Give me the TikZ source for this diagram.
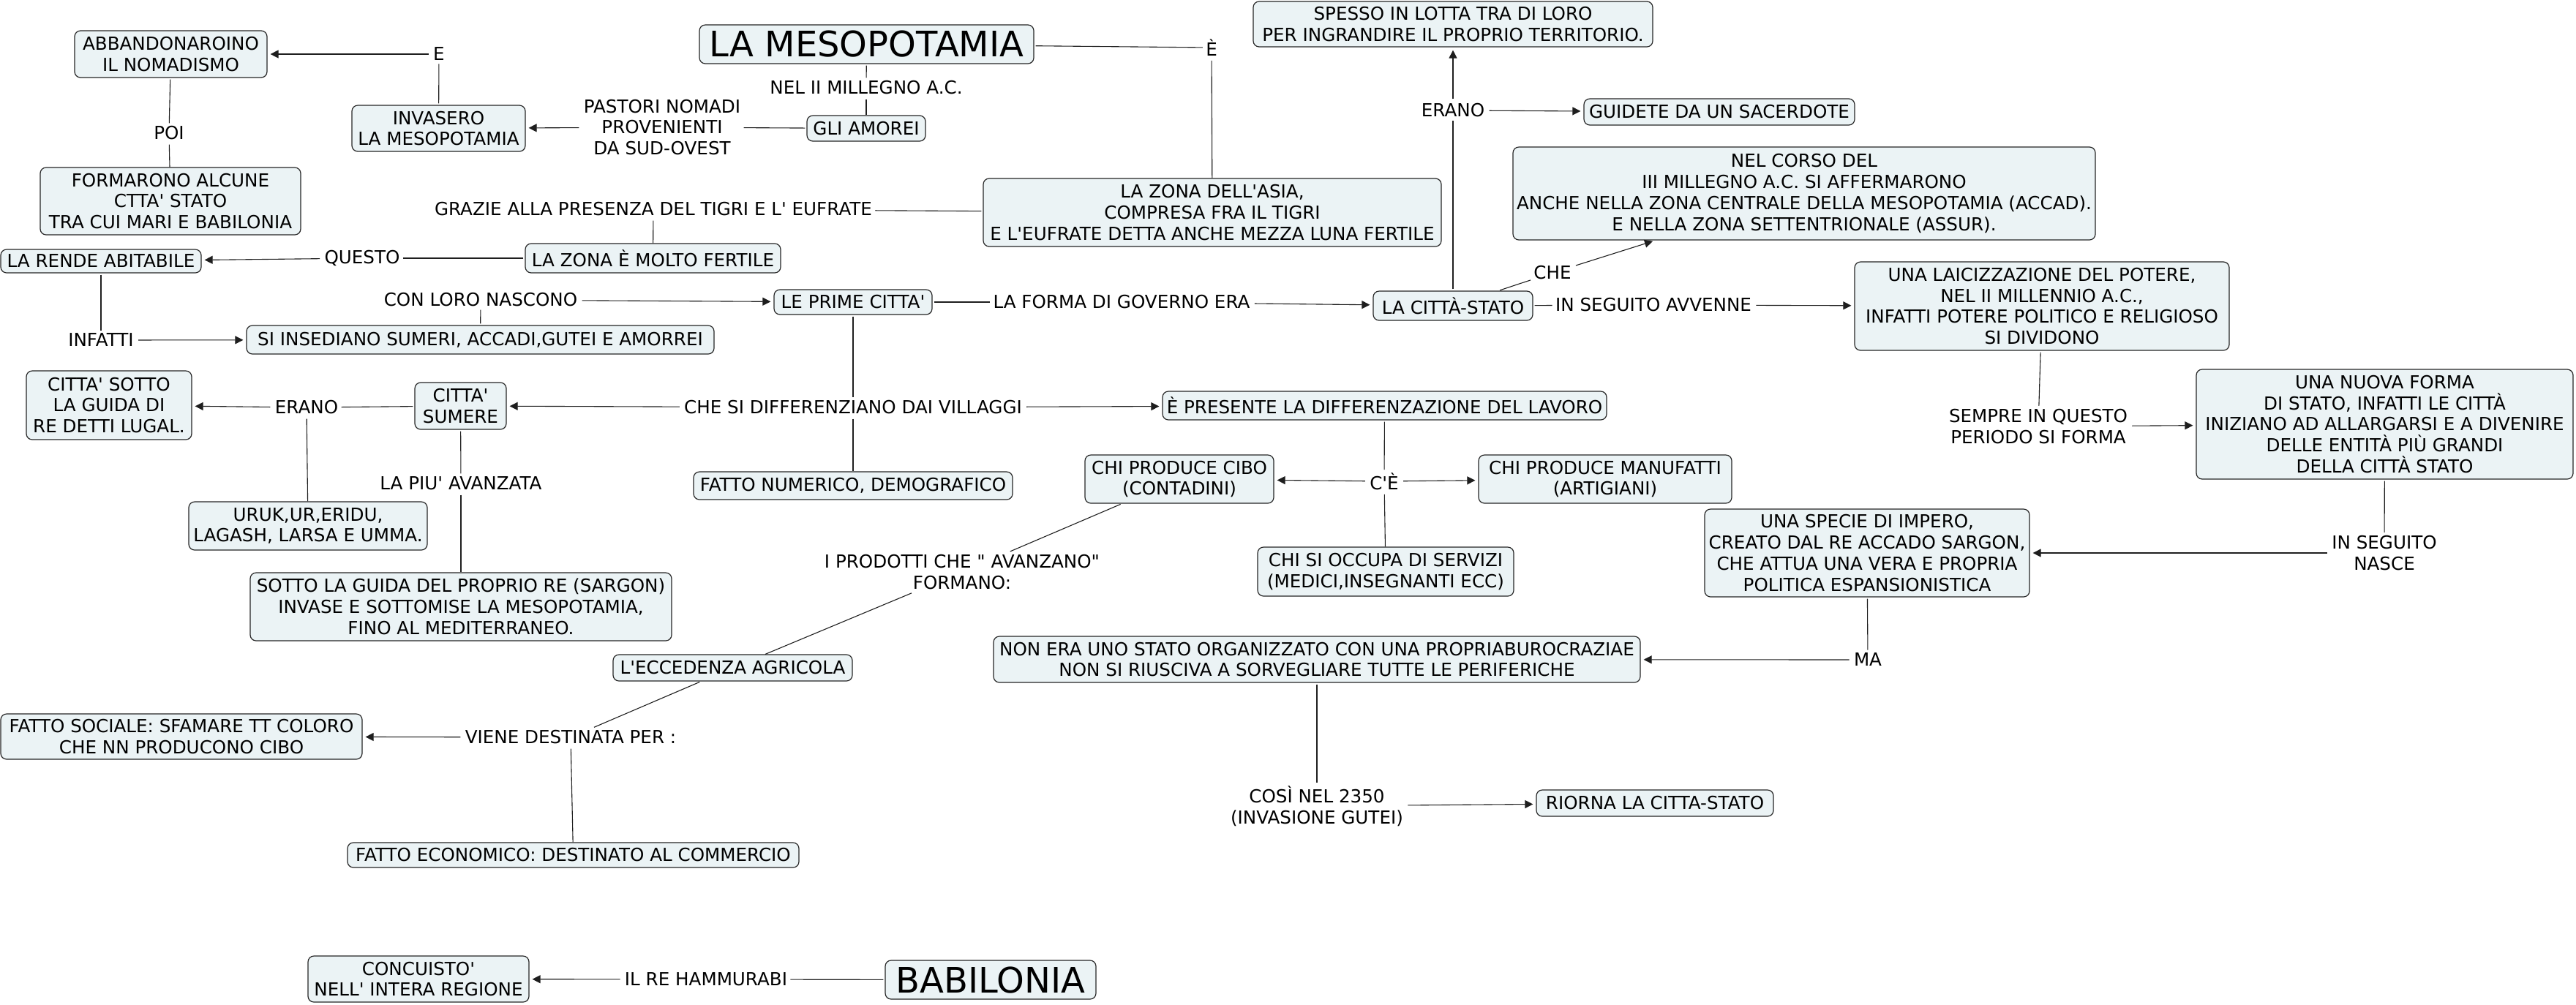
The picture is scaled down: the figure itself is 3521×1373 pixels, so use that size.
\documentclass[tikz,border=0pt]{standalone}
\usepackage{fontspec}
\setmainfont{DejaVu Sans}[Ligatures=TeXOff]
\usetikzlibrary{arrows.meta}
\definecolor{boxfill}{RGB}{235,243,245}
\definecolor{linec}{RGB}{30,30,30}
\newcommand\fs{\fontsize{12.3}{14.4}\selectfont}
\newcommand\fbig{\fontsize{24}{28}\selectfont}
\tikzset{
  box/.style={draw=black!85, fill=boxfill, rounded corners=4pt, line width=0.6pt, align=center, inner sep=0pt, font=\fs},
  lbl/.style={align=center, inner sep=2pt, font=\fs, fill=white},
  con/.style={draw=linec, line width=0.55pt, shorten <=1pt},
  arr/.style={con, -{Triangle[length=5.5pt,width=5.5pt]}, shorten >=2pt}
}
\newcommand\B[7][]{\node[box,#1, minimum width={(#5-#3)*0.5pt}, minimum height={(#6-#4)*0.5pt}] (#2) at ({(#3+#5)/2},{(#4+#6)/2}) {#7};}
\begin{document}
\begin{tikzpicture}[x=0.5pt,y=-0.5pt]
\fill[white] (0,0) rectangle (3521,1373);
\useasboundingbox (0,0) rectangle (3521,1373);
% concepts
\B{abb}{102}{42}{365}{106}{ABBANDONAROINO\\IL NOMADISMO}
\B{inv}{481}{144}{718}{207}{INVASERO\\LA MESOPOTAMIA}
\B{form}{55}{229}{411}{321}{FORMARONO ALCUNE\\CTTA' STATO\\TRA CUI MARI E BABILONIA}
\B{rende}{1}{341}{275}{373}{LA RENDE ABITABILE}
\B{zf}{718}{333}{1067}{373}{LA ZONA È MOLTO FERTILE}
\B[font=\fbig]{mesop}{956}{34}{1413}{87}{LA MESOPOTAMIA}
\B{amorei}{1103}{158}{1265}{193}{GLI AMOREI}
\B{asia}{1344}{244}{1970}{337}{LA ZONA DELL'ASIA,\\COMPRESA FRA IL TIGRI\\E L'EUFRATE DETTA ANCHE MEZZA LUNA FERTILE}
\B{insed}{337}{445}{976}{484}{SI INSEDIANO SUMERI, ACCADI,GUTEI E AMORREI}
\B{prime}{1058}{396}{1274}{430}{LE PRIME CITTA'}
\B{spesso}{1713}{2}{2259}{64}{SPESSO IN LOTTA TRA DI LORO\\PER INGRANDIRE IL PROPRIO TERRITORIO.}
\B{guid}{2165}{135}{2535}{171}{GUIDETE DA UN SACERDOTE}
\B{ncorso}{2068}{201}{2864}{328}{NEL CORSO DEL\\III MILLEGNO A.C. SI AFFERMARONO\\ANCHE NELLA ZONA CENTRALE DELLA MESOPOTAMIA (ACCAD).\\E NELLA ZONA SETTENTRIONALE (ASSUR).}
\B{cs}{1877}{398}{2095}{438}{LA CITTÀ-STATO}
\B{laic}{2535}{358}{3047}{479}{UNA LAICIZZAZIONE DEL POTERE,\\NEL II MILLENNIO A.C.,\\INFATTI POTERE POLITICO E RELIGIOSO\\SI DIVIDONO}
\B{nuova}{3002}{505}{3517}{655}{UNA NUOVA FORMA\\DI STATO, INFATTI LE CITTÀ\\INIZIANO AD ALLARGARSI E A DIVENIRE\\DELLE ENTITÀ PIÙ GRANDI\\DELLA CITTÀ STATO}
\B{specie}{2330}{696}{2774}{816}{UNA SPECIE DI IMPERO,\\CREATO DAL RE ACCADO SARGON,\\CHE ATTUA UNA VERA E PROPRIA\\POLITICA ESPANSIONISTICA}
\B{nonera}{1358}{870}{2242}{933}{NON ERA UNO STATO ORGANIZZATO CON UNA PROPRIABUROCRAZIAE\\NON SI RIUSCIVA A SORVEGLIARE TUTTE LE PERIFERICHE}
\B{riorna}{2100}{1080}{2424}{1116}{RIORNA LA CITTA-STATO}
\B{sotto}{36}{507}{262}{601}{CITTA' SOTTO\\LA GUIDA DI\\RE DETTI LUGAL.}
\B{sumere}{567}{523}{692}{587}{CITTA'\\SUMERE}
\B{uruk}{258}{686}{584}{752}{URUK,UR,ERIDU,\\LAGASH, LARSA E UMMA.}
\B{sargon}{342}{783}{918}{876}{SOTTO LA GUIDA DEL PROPRIO RE (SARGON)\\INVASE E SOTTOMISE LA MESOPOTAMIA,\\FINO AL MEDITERRANEO.}
\B{numer}{948}{645}{1384}{683}{FATTO NUMERICO, DEMOGRAFICO}
\B{pres}{1589}{535}{2196}{574}{È PRESENTE LA DIFFERENZAZIONE DEL LAVORO}
\B{cibo}{1483}{622}{1741}{688}{CHI PRODUCE CIBO\\(CONTADINI)}
\B{manuf}{2021}{622}{2367}{688}{CHI PRODUCE MANUFATTI\\(ARTIGIANI)}
\B{serv}{1719}{748}{2069}{815}{CHI SI OCCUPA DI SERVIZI\\(MEDICI,INSEGNANTI ECC)}
\B{ecc}{838}{895}{1165}{931}{L'ECCEDENZA AGRICOLA}
\B{soc}{1}{976}{495}{1038}{FATTO SOCIALE: SFAMARE TT COLORO\\CHE NN PRODUCONO CIBO}
\B{econ}{475}{1152}{1092}{1186}{FATTO ECONOMICO: DESTINATO AL COMMERCIO}
\B{conq}{421}{1307}{723}{1370}{CONCUISTO'\\NELL' INTERA REGIONE}
\B[font=\fbig]{babi}{1210}{1313}{1498}{1366}{BABILONIA}
% linking phrases
\node[lbl] (lE) at (600,74) {E};
\node[lbl] (lPoi) at (231,182) {POI};
\node[lbl] (lPast) at (905,174) {PASTORI NOMADI\\PROVENIENTI\\DA SUD-OVEST};
\node[lbl] (lNel) at (1184,120) {NEL II MILLEGNO A.C.};
\node[lbl] (lE2) at (1656,65) {È};
\node[lbl] (lGraz) at (893,286) {GRAZIE ALLA PRESENZA DEL TIGRI E L' EUFRATE};
\node[lbl] (lQuesto) at (495,353) {QUESTO};
\node[lbl] (lInf) at (138,465) {INFATTI};
\node[lbl] (lCon) at (657,410) {CON LORO NASCONO};
\node[lbl] (lForma) at (1533,413) {LA FORMA DI GOVERNO ERA};
\node[lbl] (lEr1) at (1986,151) {ERANO};
\node[lbl] (lChe) at (2122,373) {CHE};
\node[lbl] (lAvv) at (2260,417) {IN SEGUITO AVVENNE};
\node[lbl] (lSempre) at (2786,583) {SEMPRE IN QUESTO\\PERIODO SI FORMA};
\node[lbl] (lNasce) at (3259,756) {IN SEGUITO\\NASCE};
\node[lbl] (lMa) at (2553,902) {MA};
\node[lbl] (lCosi) at (1800,1102) {COSÌ NEL 2350\\(INVASIONE GUTEI)};
\node[lbl] (lDiff) at (1166,557) {CHE SI DIFFERENZIANO DAI VILLAGGI};
\node[lbl] (lEr2) at (419,557) {ERANO};
\node[lbl] (lPiu) at (630,661) {LA PIU' AVANZATA};
\node[lbl] (lCe) at (1892,658) {C'È};
\node[lbl] (lProd) at (1315,782) {I PRODOTTI CHE " AVANZANO"\\FORMANO:};
\node[lbl] (lViene) at (780,1008) {VIENE DESTINATA PER :};
\node[lbl] (lHam) at (965,1339) {IL RE HAMMURABI};
% connectors
\draw[con] (inv) -- (lE); \draw[arr] (lE) -- (abb);
\draw[con] (abb) -- (lPoi); \draw[con] (lPoi) -- (form);
\draw[con] (amorei) -- (lPast); \draw[arr] (lPast) -- (inv);
\draw[con] (mesop) -- (lNel); \draw[con] (lNel) -- (amorei);
\draw[con] (mesop) -- (lE2); \draw[con] (lE2) -- (asia);
\draw[con] (asia) -- (lGraz); \draw[con] (lGraz) -- (zf);
\draw[con] (zf) -- (lQuesto); \draw[arr] (lQuesto) -- (rende);
\draw[con] (rende) -- (lInf); \draw[arr] (lInf) -- (insed);
\draw[con] (insed) -- (lCon); \draw[arr] (lCon) -- (prime);
\draw[con] (prime) -- (lForma); \draw[arr] (lForma) -- (cs);
\draw[con] (cs) -- (lEr1); \draw[arr] (lEr1) -- (spesso); \draw[arr] (lEr1) -- (guid);
\draw[con] (cs) -- (lChe); \draw[arr] (lChe) -- (ncorso);
\draw[con] (cs) -- (lAvv); \draw[arr] (lAvv) -- (laic);
\draw[con] (laic) -- (lSempre); \draw[arr] (lSempre) -- (nuova);
\draw[con] (nuova) -- (lNasce); \draw[arr] (lNasce) -- (specie);
\draw[con] (specie) -- (lMa); \draw[arr] (lMa) -- (nonera);
\draw[con] (nonera) -- (lCosi); \draw[arr] (lCosi) -- (riorna);
\draw[con] (prime) -- (lDiff); \draw[arr] (lDiff) -- (sumere); \draw[arr] (lDiff) -- (pres); \draw[con] (lDiff) -- (numer);
\draw[con] (sumere) -- (lEr2); \draw[arr] (lEr2) -- (sotto); \draw[con] (lEr2) -- (uruk);
\draw[con] (sumere) -- (lPiu); \draw[con] (lPiu) -- (sargon);
\draw[con] (pres) -- (lCe); \draw[arr] (lCe) -- (cibo); \draw[arr] (lCe) -- (manuf); \draw[con] (lCe) -- (serv);
\draw[con] (cibo) -- (lProd); \draw[con] (lProd) -- (ecc);
\draw[con] (ecc) -- (lViene); \draw[arr] (lViene) -- (soc); \draw[con] (lViene) -- (econ);
\draw[con] (babi) -- (lHam); \draw[arr] (lHam) -- (conq);
\end{tikzpicture}
\end{document}
